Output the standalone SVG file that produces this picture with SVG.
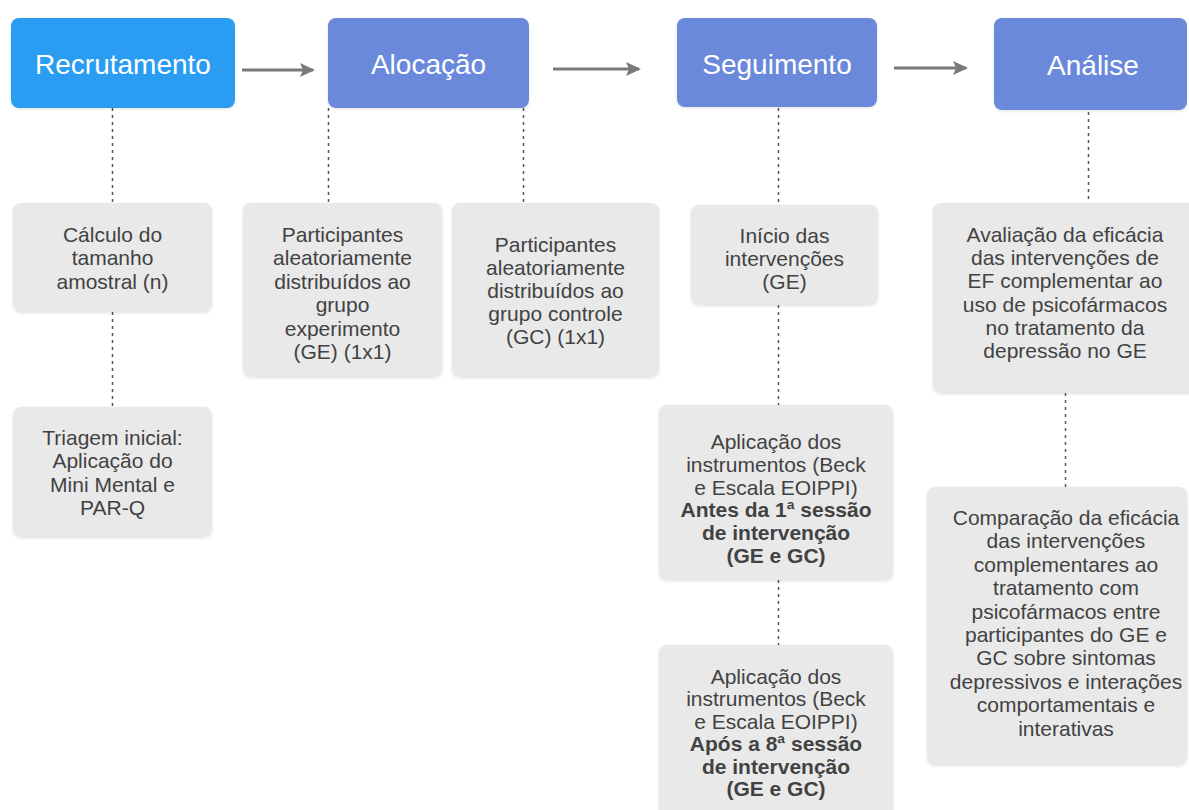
<svg xmlns="http://www.w3.org/2000/svg" width="1189" height="810" viewBox="0 0 1189 810">
  <style>
    .hdr { fill: #6a89db; }
    .hdr1 { fill: #2a9df2; }
    .ht { font-family: "Liberation Sans", Arial, sans-serif; font-size: 28px; fill: #ffffff; text-anchor: middle; }
    .box { fill: #e9e9e9; }
    .bt { font-family: "Liberation Sans", Arial, sans-serif; font-size: 21px; fill: #424242; text-anchor: middle; }
    .b { font-weight: bold; }
    .dot { stroke: #555555; stroke-width: 1.5; stroke-dasharray: 3 4; fill: none; }
    .arr { stroke: #7a7a7a; stroke-width: 3; fill: none; marker-end: url(#ah); }
  </style>
  <defs>
    <marker id="ah" markerWidth="16" markerHeight="14" refX="13" refY="7" orient="auto" markerUnits="userSpaceOnUse">
      <path d="M0,0 L15,7 L0,14 L3,7 Z" fill="#7a7a7a"/>
    </marker>
    <filter id="sh" x="-5%" y="-5%" width="110%" height="115%">
      <feDropShadow dx="0" dy="1" stdDeviation="1.5" flood-color="#000000" flood-opacity="0.12"/>
    </filter>
  </defs>
  <rect width="1189" height="810" fill="#ffffff"/>

  <g id="connectors">
    <line class="arr" x1="242" y1="70" x2="313" y2="70"/>
    <line class="arr" x1="553" y1="69" x2="639" y2="69"/>
    <line class="arr" x1="894" y1="68" x2="966" y2="68"/>
    <line class="dot" x1="112.5" y1="108" x2="112.5" y2="203"/>
    <line class="dot" x1="112.5" y1="312" x2="112.5" y2="407"/>
    <line class="dot" x1="328.5" y1="108" x2="328.5" y2="203"/>
    <line class="dot" x1="523.5" y1="108" x2="523.5" y2="203"/>
    <line class="dot" x1="778.5" y1="108" x2="778.5" y2="205"/>
    <line class="dot" x1="778.5" y1="305" x2="778.5" y2="405"/>
    <line class="dot" x1="778.5" y1="580" x2="778.5" y2="645"/>
    <line class="dot" x1="1088.5" y1="112" x2="1088.5" y2="203"/>
    <line class="dot" x1="1065.5" y1="393" x2="1065.5" y2="487"/>
  </g>

  <g id="recrutamento">
    <rect class="hdr1" x="11" y="18" width="224" height="90" rx="8" filter="url(#sh)"/>
    <text class="ht" x="123" y="74">Recrutamento</text>
  </g>
  <g id="alocacao">
    <rect class="hdr" x="328" y="18" width="201" height="90" rx="8" filter="url(#sh)"/>
    <text class="ht" x="428.5" y="74">Alocação</text>
  </g>
  <g id="seguimento">
    <rect class="hdr" x="677" y="18" width="200" height="89" rx="8" filter="url(#sh)"/>
    <text class="ht" x="777" y="74">Seguimento</text>
  </g>
  <g id="analise">
    <rect class="hdr" x="994" y="18" width="193" height="92" rx="8" filter="url(#sh)"/>
    <text class="ht" x="1093" y="75">Análise</text>
  </g>

  <g id="calculo">
    <rect class="box" x="13" y="203" width="199" height="109" rx="8" filter="url(#sh)"/>
    <text class="bt" x="112.5" y="242">Cálculo do<tspan x="112.5" dy="23.3">tamanho</tspan><tspan x="112.5" dy="23.3">amostral (n)</tspan></text>
  </g>
  <g id="triagem">
    <rect class="box" x="13" y="407" width="199" height="130" rx="8" filter="url(#sh)"/>
    <text class="bt" x="112.5" y="445">Triagem inicial:<tspan x="112.5" dy="23.3">Aplicação do</tspan><tspan x="112.5" dy="23.3">Mini Mental e</tspan><tspan x="112.5" dy="23.3">PAR-Q</tspan></text>
  </g>
  <g id="grupo-experimento">
    <rect class="box" x="243" y="203" width="199" height="174" rx="8" filter="url(#sh)"/>
    <text class="bt" x="342.5" y="242">Participantes<tspan x="342.5" dy="23.4">aleatoriamente</tspan><tspan x="342.5" dy="23.4">distribuídos ao</tspan><tspan x="342.5" dy="23.4">grupo</tspan><tspan x="342.5" dy="23.4">experimento</tspan><tspan x="342.5" dy="23.4">(GE) (1x1)</tspan></text>
  </g>
  <g id="grupo-controle">
    <rect class="box" x="452" y="203" width="207" height="174" rx="8" filter="url(#sh)"/>
    <text class="bt" x="555.5" y="252">Participantes<tspan x="555.5" dy="23">aleatoriamente</tspan><tspan x="555.5" dy="23">distribuídos ao</tspan><tspan x="555.5" dy="23">grupo controle</tspan><tspan x="555.5" dy="23">(GC) (1x1)</tspan></text>
  </g>
  <g id="inicio">
    <rect class="box" x="691" y="205" width="187" height="100" rx="8" filter="url(#sh)"/>
    <text class="bt" x="784.5" y="243">Início das<tspan x="784.5" dy="23">intervenções</tspan><tspan x="784.5" dy="23">(GE)</tspan></text>
  </g>
  <g id="aplicacao-antes">
    <rect class="box" x="659" y="405" width="234" height="175" rx="8" filter="url(#sh)"/>
    <text class="bt" x="776" y="449">Aplicação dos<tspan x="776" dy="22.8">instrumentos (Beck</tspan><tspan x="776" dy="22.8">e Escala EOIPPI)</tspan><tspan class="b" x="776" dy="22.8">Antes da 1ª sessão</tspan><tspan class="b" x="776" dy="22.8">de intervenção</tspan><tspan class="b" x="776" dy="22.8">(GE e GC)</tspan></text>
  </g>
  <g id="aplicacao-apos">
    <rect class="box" x="659" y="645" width="234" height="180" rx="8" filter="url(#sh)"/>
    <text class="bt" x="776" y="684">Aplicação dos<tspan x="776" dy="22.4">instrumentos (Beck</tspan><tspan x="776" dy="22.4">e Escala EOIPPI)</tspan><tspan class="b" x="776" dy="22.4">Após a 8ª sessão</tspan><tspan class="b" x="776" dy="22.4">de intervenção</tspan><tspan class="b" x="776" dy="22.4">(GE e GC)</tspan></text>
  </g>
  <g id="avaliacao">
    <rect class="box" x="933" y="203" width="266" height="190" rx="8" filter="url(#sh)"/>
    <text class="bt" x="1065" y="242">Avaliação da eficácia<tspan x="1065" dy="23.2">das intervenções de</tspan><tspan x="1065" dy="23.2">EF complementar ao</tspan><tspan x="1065" dy="23.2">uso de psicofármacos</tspan><tspan x="1065" dy="23.2">no tratamento da</tspan><tspan x="1065" dy="23.2">depressão no GE</tspan></text>
  </g>
  <g id="comparacao">
    <rect class="box" x="927" y="487" width="260" height="278" rx="8" filter="url(#sh)"/>
    <text class="bt" x="1066" y="525">Comparação da eficácia<tspan x="1066" dy="23.4">das intervenções</tspan><tspan x="1066" dy="23.4">complementares ao</tspan><tspan x="1066" dy="23.4">tratamento com</tspan><tspan x="1066" dy="23.4">psicofármacos entre</tspan><tspan x="1066" dy="23.4">participantes do GE e</tspan><tspan x="1066" dy="23.4">GC sobre sintomas</tspan><tspan x="1066" dy="23.4">depressivos e interações</tspan><tspan x="1066" dy="23.4">comportamentais e</tspan><tspan x="1066" dy="23.4">interativas</tspan></text>
  </g>
</svg>
